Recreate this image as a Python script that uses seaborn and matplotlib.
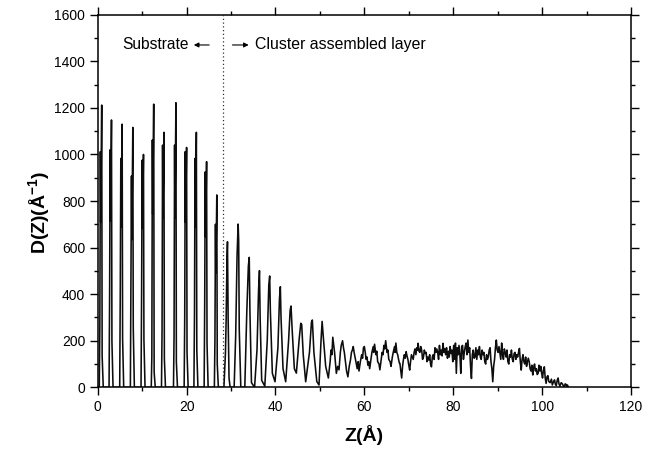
import numpy as np
import pandas as pd
import seaborn as sns
import matplotlib.pyplot as plt
from matplotlib.ticker import MultipleLocator

# substrate layers: position, main spike, second spike, shoulder
sub_z = [0.9, 3.1, 5.5, 7.9, 10.3, 12.6, 14.9, 17.6, 20.0, 22.2, 24.5, 26.8]
sub_top = [1212, 1148, 1130, 1116, 1000, 1216, 1095, 1222, 1030, 1095, 969, 826]
sub_side = [1012, 1020, 983, 907, 975, 1062, 1040, 1040, 1012, 983, 925, 700]
sub_shoulder = [267, 396, 418, 511, 412, 131, 246, 217, 303, 319, 375, 203]

# cluster assembled layer, read point by point as (Z, D)
cluster = [
    (28.4, 0), (28.75, 150), (28.9, 289), (29.1, 560), (29.2, 625), (29.35, 300), (29.55, 40),
    (29.8, 0), (30.7, 0), (31.05, 223), (31.35, 560), (31.6, 701), (31.72, 630), (31.85, 250),
    (32.2, 0), (33.1, 0), (33.55, 325), (33.9, 520), (34.1, 558), (34.25, 330), (34.6, 20),
    (35.3, 0), (35.85, 163), (36.2, 420), (36.4, 501), (36.55, 300), (36.9, 30), (37.6, 5),
    (38.15, 200), (38.5, 440), (38.7, 478), (38.85, 330), (39.3, 60), (39.9, 24), (40.55, 170),
    (40.9, 380), (41.1, 432), (41.25, 300), (41.7, 80), (42.3, 24), (42.95, 200), (43.3, 330),
    (43.5, 349), (43.75, 250), (44.25, 80), (44.7, 61), (45.35, 210), (45.7, 275), (45.9, 270),
    (46.25, 140), (46.8, 24), (47.65, 150), (48.1, 280), (48.3, 289), (48.65, 150), (49.3, 25),
    (49.8, 10), (50.25, 200), (50.5, 283), (50.75, 220), (51.3, 90), (51.9, 40), (52.3, 110),
    (52.5, 160), (52.7, 140), (52.9, 215), (53.3, 150), (53.7, 60), (54.0, 90), (54.3, 75),
    (54.6, 150), (54.8, 180), (55.1, 200), (55.3, 170), (55.5, 150), (55.8, 100), (56.0, 70),
    (56.3, 45), (56.6, 90), (56.9, 120), (57.1, 150), (57.3, 160), (57.5, 175), (57.7, 150),
    (57.9, 130), (58.2, 100), (58.4, 80), (58.6, 110), (58.8, 70), (59.1, 110), (59.4, 140),
    (59.6, 125), (59.8, 170), (60.0, 175), (60.2, 150), (60.4, 120), (60.6, 130), (60.8, 95),
    (61.0, 110), (61.2, 80), (61.5, 120), (61.7, 150), (62.0, 175), (62.1, 150), (62.3, 185),
    (62.6, 140), (62.8, 155), (63.0, 110), (63.3, 100), (63.5, 75), (63.8, 120), (64.0, 150),
    (64.2, 140), (64.4, 180), (64.6, 165), (64.8, 200), (65.1, 150), (65.3, 160), (65.5, 120),
    (65.8, 110), (66.0, 90), (66.3, 130), (66.5, 150), (66.8, 175), (66.9, 150), (67.1, 190),
    (67.3, 150), (67.5, 140), (67.7, 120), (67.9, 103),
    (68.0, 103), (68.2, 70), (68.4, 40), (68.6, 90), (68.8, 120), (69.0, 140), (69.2, 125),
    (69.4, 153), (69.6, 135), (69.8, 120), (70.0, 95), (70.2, 74), (70.4, 110), (70.6, 140),
    (70.8, 130), (71.0, 120), (71.2, 150), (71.4, 165), (71.6, 140), (71.8, 170), (72.0, 160),
    (72.1, 189), (72.3, 155), (72.5, 150), (72.7, 175), (72.9, 160), (73.1, 120), (73.3, 130),
    (73.5, 160), (73.7, 145), (73.9, 150), (74.1, 110), (74.3, 130), (74.5, 117), (74.7, 140),
    (74.9, 100), (75.1, 88), (75.3, 130), (75.5, 140), (75.7, 120), (75.9, 170), (76.1, 150),
    (76.3, 165), (76.5, 150), (76.7, 120), (76.9, 180), (77.1, 140), (77.3, 160), (77.5, 135),
    (77.7, 189), (77.9, 150), (78.1, 165), (78.3, 140), (78.5, 170), (78.7, 125), (78.9, 155),
    (79.1, 130), (79.3, 175), (79.5, 145), (79.7, 160), (79.9, 110), (80.1, 180), (80.3, 120),
    (80.5, 190), (80.7, 60), (80.9, 170), (81.1, 140), (81.3, 180), (81.5, 140), (81.7, 60),
    (81.9, 175), (82.1, 180), (82.3, 120), (82.5, 150), (82.7, 175), (82.9, 190), (83.1, 140),
    (83.3, 203), (83.5, 150), (83.7, 170), (83.9, 90), (84.1, 38), (84.3, 140), (84.5, 160),
    (84.7, 125), (84.9, 130), (85.1, 170), (85.3, 120), (85.5, 160), (85.7, 140), (85.9, 175),
    (86.1, 130), (86.3, 120), (86.5, 160), (86.7, 140), (86.9, 150), (87.1, 110), (87.3, 100),
    (87.5, 140), (87.7, 120), (87.9, 132), (88.1, 160), (88.3, 170), (88.5, 110), (88.7, 80),
    (88.9, 24), (89.1, 90), (89.3, 120), (89.5, 170), (89.7, 203), (89.9, 160), (90.1, 150),
    (90.3, 175), (90.5, 146), (90.7, 120), (90.9, 190), (91.1, 140), (91.3, 120), (91.5, 165),
    (91.7, 150), (91.9, 130), (92.1, 160), (92.3, 110), (92.5, 100), (92.7, 140), (92.9, 130),
    (93.1, 160), (93.3, 120), (93.5, 110), (93.7, 145), (93.9, 150), (94.1, 120), (94.3, 140),
    (94.5, 130), (94.7, 150), (94.9, 167), (95.1, 110), (95.3, 74), (95.5, 120), (95.7, 140),
    (95.9, 110), (96.1, 100), (96.3, 130), (96.5, 90), (96.7, 110), (96.9, 125), (97.1, 110),
    (97.3, 80), (97.5, 70), (97.7, 95), (97.9, 53), (98.1, 85), (98.3, 100), (98.5, 70),
    (98.7, 80), (98.9, 55), (99.1, 60), (99.3, 95), (99.5, 70), (99.7, 90), (99.9, 60),
    (100.1, 40), (100.3, 75), (100.5, 88), (100.7, 40), (100.9, 17), (101.1, 45), (101.3, 50),
    (101.5, 25), (101.8, 20), (102.1, 35), (102.3, 10), (102.6, 25), (102.8, 32), (103.0, 12),
    (103.2, 8), (103.4, 30), (103.6, 40), (103.8, 15), (104.0, 5), (104.3, 20), (104.6, 14),
    (104.8, 5), (105.0, 3), (105.2, 15), (105.4, 12), (105.6, 2), (105.7, 10), (105.9, 0),
]

# spike outline for each substrate layer
zs, ds = [], []
for z, top, side, sh in zip(sub_z, sub_top, sub_side, sub_shoulder):
    zs += [z - 0.55, z - 0.42, z - 0.3, z - 0.22, z, z + 0.1, z + 0.35]
    ds += [0, sh, side, side * 0.7, top, sh * 0.5, 0]
clu_z = [p[0] for p in cluster]
clu_d = [p[1] for p in cluster]
df = pd.DataFrame({'Z': zs + clu_z, 'D': ds + clu_d})

sns.set_style("ticks", {"text.color": "black", "axes.labelcolor": "black",
                        "xtick.color": "black", "ytick.color": "black",
                        "axes.edgecolor": "black"})
plt.rcParams['font.family'] = ['Liberation Sans', 'DejaVu Sans']
plt.rcParams['mathtext.default'] = 'regular'

fig = plt.figure(figsize=(6.54, 4.51), dpi=100)
ax = fig.add_axes([0.1494, 0.1412, 0.8154, 0.8262])

sns.lineplot(data=df, x='Z', y='D', estimator=None, sort=False, color='#0d0d0d',
             linewidth=1.15, ax=ax)

ax.set_xlim(0, 120)
ax.set_ylim(0, 1600)
ax.xaxis.set_major_locator(MultipleLocator(20))
ax.xaxis.set_minor_locator(MultipleLocator(10))
ax.yaxis.set_major_locator(MultipleLocator(200))
ax.yaxis.set_minor_locator(MultipleLocator(100))
ax.tick_params(which='both', direction='out', top=True, right=True, width=1.0,
               colors='black', labelsize=10, pad=3)
ax.tick_params(which='major', length=6)
ax.tick_params(which='minor', length=3)
for s in ax.spines.values():
    s.set_visible(True)
    s.set_linewidth(1.1)
    s.set_color('black')

ax.set_xlabel('Z(Å)', fontsize=14, fontweight='bold', labelpad=8)
ax.set_ylabel(r'D(Z)(Å$^{-1}$)', fontsize=14, fontweight='bold')
ax.yaxis.set_label_coords(-0.085, 0.47)

# boundary between substrate and deposited layer
ax.axvline(28.2, color='#333333', linestyle=(0, (1, 2)), linewidth=0.9)
ax.text(20.5, 1470, 'Substrate', ha='right', va='center', fontsize=11.2)
ax.annotate('', xy=(21.0, 1470), xytext=(25.7, 1470),
            arrowprops=dict(arrowstyle='-|>', color='black', lw=0.8, mutation_scale=7))
ax.annotate('', xy=(34.6, 1470), xytext=(29.7, 1470),
            arrowprops=dict(arrowstyle='-|>', color='black', lw=0.8, mutation_scale=7))
ax.text(35.3, 1470, 'Cluster assembled layer', ha='left', va='center', fontsize=11.4)
ax.grid(False)

fig.savefig('out.png', dpi=100, facecolor='white')
